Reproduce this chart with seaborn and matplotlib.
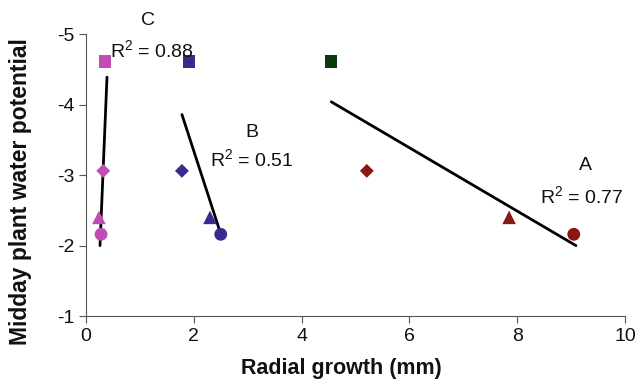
import numpy as np
import pandas as pd
import seaborn as sns
import matplotlib.pyplot as plt

# 数据：三个地点的径向生长与中午水势
potential = [-4.61, -3.06, -2.40, -2.16]
shapes = ['square', 'diamond', 'triangle', 'circle']
growth_C = [0.35, 0.32, 0.24, 0.28]
growth_B = [1.91, 1.78, 2.30, 2.50]
growth_A = [4.55, 5.21, 7.85, 9.05]
colours_C = ['#C04CB4', '#C04CB4', '#C04CB4', '#C04CB4']
colours_B = ['#3B2A8E', '#3B2A8E', '#3B2A8E', '#3B2A8E']
colours_A = ['#0B3A0B', '#8A1712', '#8A1712', '#8A1712']

# 回归线端点
trend_C_x = [0.26, 0.39]
trend_C_y = [-2.00, -4.39]
trend_B_x = [1.78, 2.49]
trend_B_y = [-3.86, -2.19]
trend_A_x = [4.55, 9.09]
trend_A_y = [-4.04, -2.00]

labels = ['C', 'B', 'A']
r2_text = ['R$^2$ = 0.88', 'R$^2$ = 0.51', 'R$^2$ = 0.77']


def main():
    sns.set_style('ticks')
    plt.rcParams['font.family'] = ['Liberation Sans', 'DejaVu Sans']
    plt.rcParams['axes.unicode_minus'] = False
    plt.rcParams['mathtext.fontset'] = 'custom'
    plt.rcParams['mathtext.rm'] = 'Liberation Sans'

    df = pd.DataFrame({
        'growth': growth_C + growth_B + growth_A,
        'potential': potential * 3,
        'shape': shapes * 3,
        'colour': colours_C + colours_B + colours_A,
    })

    fig = plt.figure(figsize=(6.44, 3.79), dpi=100)
    ax = fig.add_axes([0.1335, 0.166, 0.837, 0.744])

    markers = {'square': 's', 'diamond': 'D', 'triangle': '^', 'circle': 'o'}
    sizes = {'square': 80, 'diamond': 50, 'triangle': 95, 'circle': 85}
    for shp in shapes:
        sub = df[df['shape'] == shp]
        sns.scatterplot(x='growth', y='potential', data=sub, hue='colour',
                        palette={c: c for c in sub['colour'].unique()},
                        marker=markers[shp], s=sizes[shp], linewidth=0,
                        legend=False, ax=ax, zorder=3, clip_on=False)

    for tx, ty in [(trend_C_x, trend_C_y), (trend_B_x, trend_B_y), (trend_A_x, trend_A_y)]:
        sns.lineplot(x=tx, y=ty, color='black', linewidth=2.0, ax=ax, zorder=2)

    # 标注
    kw = dict(fontsize=14, ha='center', va='center', color='#111111')
    ax.text(1.15, -5.20, labels[0], clip_on=False, **kw)
    ax.text(1.22, -4.77, r2_text[0], **kw)
    ax.text(3.08, -3.60, labels[1], **kw)
    ax.text(3.07, -3.21, r2_text[1], **kw)
    ax.text(9.26, -3.14, labels[2], **kw)
    ax.text(9.20, -2.69, r2_text[2], **kw)

    ax.set_xlim(0, 10)
    ax.set_ylim(-1, -5)
    ax.set_xticks([0, 2, 4, 6, 8, 10])
    ax.set_yticks([-1, -2, -3, -4, -5])
    ax.tick_params(labelsize=14, length=5, color='#555555', labelcolor='#111111')
    for side in ['left', 'bottom']:
        ax.spines[side].set_color('#555555')
    sns.despine(ax=ax)

    ax.set_xlabel('Radial growth (mm)', fontsize=15.5, fontweight='bold', color='#111111')
    ax.set_ylabel('Midday plant water potential', fontsize=16.5, fontweight='bold', color='#111111')
    ax.xaxis.set_label_coords(0.473, -0.15)
    ax.yaxis.set_label_coords(-0.10, 0.44)

    fig.savefig('out.png', dpi=100)


if __name__ == '__main__':
    main()
